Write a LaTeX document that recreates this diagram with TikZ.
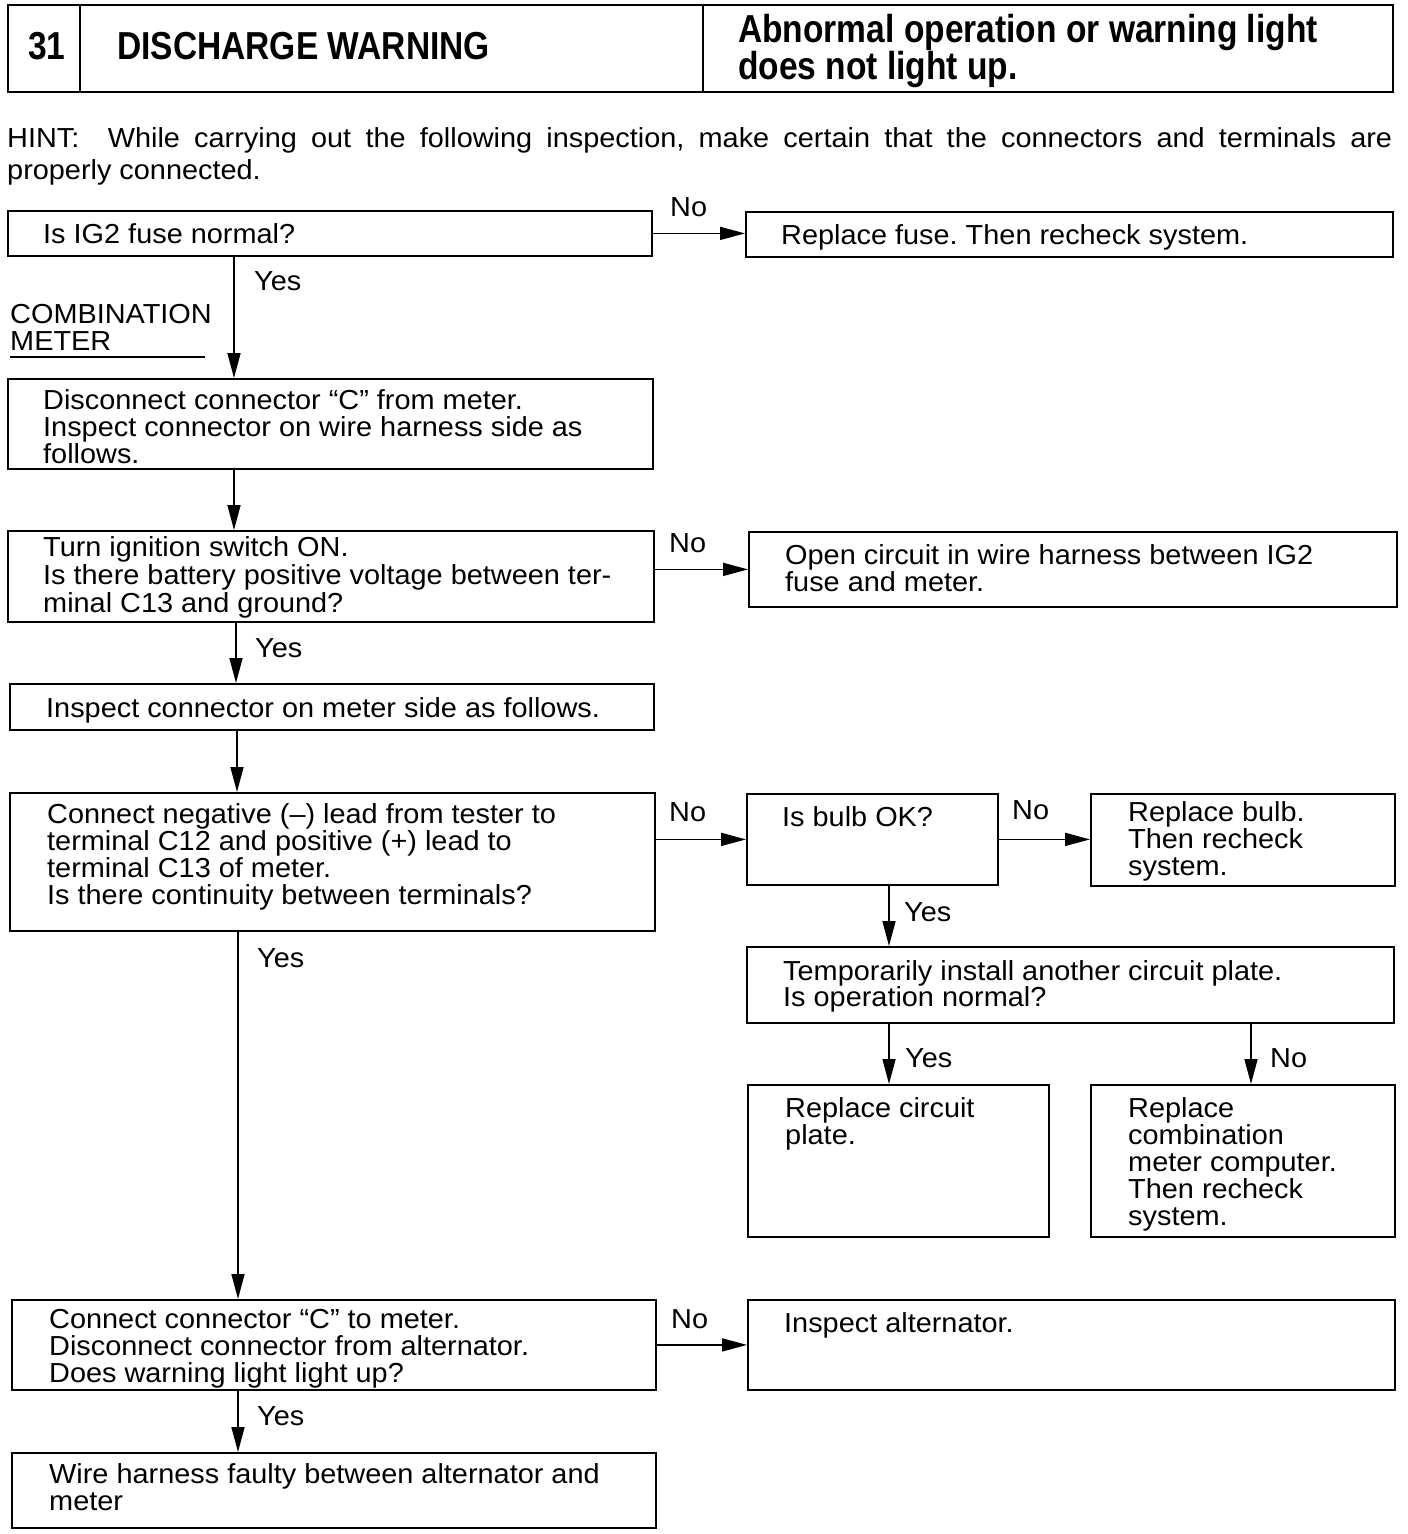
\documentclass[tikz,border=0pt]{standalone}
\usepackage{fontspec}
\setmainfont{Liberation Sans}[FakeStretch=1.05]
\newfontfamily\titlefont[FakeStretch=0.86]{Liberation Sans}
\usetikzlibrary{arrows.meta}
\frenchspacing
\newcommand\mybox[5]{\node[box, minimum width={(#4-#2)*1pt}, minimum height={(#5-#3)*1pt}] (#1) at (#2,#3) {};}
\begin{document}
\begin{tikzpicture}[x=1pt,y=-1pt,
 box/.style={draw, line width=1.8pt, rectangle, inner sep=0pt, anchor=north west},
 txt/.style={anchor=north west, inner sep=0pt, align=left, font=\fontsize{27.5}{27}\selectfont},
 lbl/.style={anchor=base west, inner sep=0pt, font=\fontsize{27.5}{27}\selectfont},
 ttl/.style={anchor=base west, inner sep=0pt, font=\titlefont\bfseries\fontsize{39}{34}\selectfont},
 arr/.style={line width=1.6pt, -{Triangle[length=25pt,width=13pt]}}]
\useasboundingbox[fill=white] (0,0) rectangle (1408,1534);

% title
\mybox{title}{7}{4}{1392}{91}
\draw[line width=1.8pt] (80,4) -- (80,91);
\draw[line width=1.8pt] (703,4) -- (703,91);
\node[ttl, anchor=base] (tnum) at (47,59) {31};
\node[ttl] (tname) at (117,59) {DISCHARGE WARNING};
\node[ttl, anchor=north west, align=left] (tsub) at (738,14) {Abnormal operation or warning light\\does not light up.};

% hint
\node[anchor=north west, inner sep=0pt, text width=1385pt, align=justify, font=\fontsize{27.5}{32}\selectfont] (hint) at (7,127)
 {HINT:\ \ While carrying out the following inspection, make certain that the connectors and terminals are\linebreak properly connected.};

% boxes
\mybox{q1}{7}{210}{651}{255}
\mybox{r1}{745}{211}{1392}{256}
\mybox{q2}{7}{378}{652}{468}
\mybox{q3}{7}{530}{653}{621}
\mybox{r3}{748}{531}{1396}{606}
\mybox{q4}{9}{683}{653}{729}
\mybox{q5}{9}{792}{654}{930}
\mybox{bulb}{746}{793}{997}{884}
\mybox{rbulb}{1090}{793}{1394}{885}
\mybox{temp}{746}{946}{1393}{1022}
\mybox{plate}{747}{1084}{1048}{1236}
\mybox{comp}{1090}{1084}{1394}{1236}
\mybox{q6}{11}{1299}{655}{1389}
\mybox{alt}{747}{1299}{1394}{1389}
\mybox{wire}{11}{1452}{655}{1527}

% texts
\node[txt] (t1) at (43,223) {Is IG2 fuse normal?};
\node[txt] (tr1) at (781,224) {Replace fuse. Then recheck system.};
\node[txt] (comb) at (10,304) {COMBINATION\\METER};
\draw[line width=1.5pt] (10,357) -- (205,357);
\node[txt] (t2) at (43,389) {Disconnect connector “C” from meter.\\Inspect connector on wire harness side as\\follows.};
\node[txt, font=\fontsize{27.5}{28}\selectfont] (t3) at (43,536) {Turn ignition switch ON.\\Is there battery positive voltage between ter-\\minal C13 and ground?};
\node[txt] (tr3) at (785,544) {Open circuit in wire harness between IG2\\fuse and meter.};
\node[txt] (t4) at (46,697) {Inspect connector on meter side as follows.};
\node[txt] (t5) at (47,803) {Connect negative (–) lead from tester to\\terminal C12 and positive (+) lead to\\terminal C13 of meter.\\Is there continuity between terminals?};
\node[txt] (tbulb) at (782,806) {Is bulb OK?};
\node[txt] (trbulb) at (1128,801) {Replace bulb.\\Then recheck\\system.};
\node[txt, font=\fontsize{27.5}{23}\selectfont] (ttemp) at (783,960) {Temporarily install another circuit plate.\\Is operation normal?};
\node[txt] (tplate) at (785,1097) {Replace circuit\\plate.};
\node[txt] (tcomp) at (1128,1097) {Replace\\combination\\meter computer.\\Then recheck\\system.};
\node[txt] (t6) at (49,1309) {Connect connector “C” to meter.\\Disconnect connector from alternator.\\Does warning light light up?};
\node[txt] (talt) at (784,1312) {Inspect alternator.};
\node[txt] (twire) at (49,1463) {Wire harness faulty between alternator and\\meter};

% vertical guide coordinates
\coordinate (v1) at (234,0);
\coordinate (v3) at (236,0);
\coordinate (v4) at (237,0);
\coordinate (v5) at (238,0);
\coordinate (vb) at (889,0);
\coordinate (vc) at (1251,0);

% connectors
\draw[arr] (q1.east) -- (r1.west |- q1.east);
\draw[arr] (v1 |- q1.south) -- (v1 |- q2.north);
\draw[arr] (v1 |- q2.south) -- (v1 |- q3.north);
\draw[arr] (q3.east |- r3.west) -- (r3.west);
\draw[arr] (v3 |- q3.south) -- (v3 |- q4.north);
\draw[arr] (v4 |- q4.south) -- (v4 |- q5.north);
\draw[arr] (q5.east |- bulb.west) -- (bulb.west);
\draw[arr] (bulb.east) -- (rbulb.west |- bulb.east);
\draw[arr] (vb |- bulb.south) -- (vb |- temp.north);
\draw[arr] (vb |- temp.south) -- (vb |- plate.north);
\draw[arr] (vc |- temp.south) -- (vc |- comp.north);
\draw[arr] (v5 |- q5.south) -- (v5 |- q6.north);
\draw[arr] (q6.east) -- (alt.west |- q6.east);
\draw[arr] (v5 |- q6.south) -- (v5 |- wire.north);

% labels
\node[lbl] (n1) at (670,216) {No};
\node[lbl] (y1) at (254,290) {Yes};
\node[lbl] (n2) at (669,552) {No};
\node[lbl] (y2) at (255,657) {Yes};
\node[lbl] (n3) at (669,821) {No};
\node[lbl] (n4) at (1012,819) {No};
\node[lbl] (y3) at (904,921) {Yes};
\node[lbl] (y4) at (905,1067) {Yes};
\node[lbl] (n5) at (1270,1067) {No};
\node[lbl] (y5) at (257,967) {Yes};
\node[lbl] (n6) at (671,1328) {No};
\node[lbl] (y6) at (257,1425) {Yes};
\end{tikzpicture}
\end{document}
